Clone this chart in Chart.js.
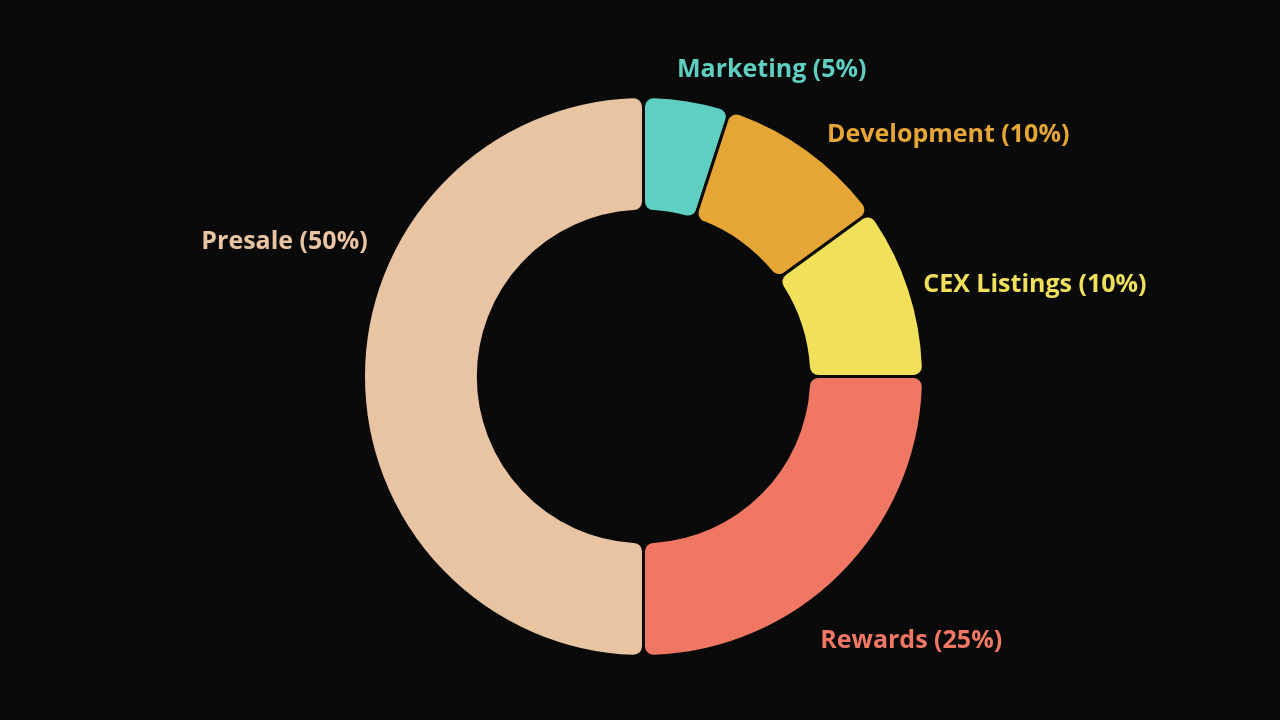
<!DOCTYPE html>
<html>
<head>
<meta charset="utf-8">
<script src="https://cdn.jsdelivr.net/npm/chart.js@4"></script>
<style>
  html, body { margin: 0; padding: 0; background: #0a0a0a; }
  canvas { display: block; }
</style>
</head>
<body>
<canvas id="chart" width="1280" height="720"></canvas>
<script>
// token allocation, clockwise from the top
const categories = ['Marketing', 'Development', 'CEX Listings', 'Rewards', 'Presale'];
const shares = [5, 10, 10, 25, 50];
const colors = ['#5ecfc0', '#e6a636', '#f0e05a', '#f07763', '#e8c4a2'];

// label placement: angle from top (deg), distance past the outer edge, alignment
const labelAngles = [6.2, 37, 71.5, 146, 296.4];
const labelGaps = [30, 25, 15, 36, 28];
const labelAlign = ['left', 'left', 'left', 'left', 'right'];

const outsideLabels = {
  id: 'outsideLabels',
  afterDraw(chart) {
    const ctx = chart.ctx;
    const meta = chart.getDatasetMeta(0);
    ctx.save();
    ctx.font = 'bold 25px "Open Sans", Lato, sans-serif';
    ctx.textBaseline = 'middle';
    meta.data.forEach((arc, i) => {
      const a = labelAngles[i] * Math.PI / 180;
      const r = arc.outerRadius + labelGaps[i];
      const x = arc.x + r * Math.sin(a);
      const y = arc.y - r * Math.cos(a) + 2; // open sans sits a bit high
      ctx.fillStyle = colors[i];
      ctx.textAlign = labelAlign[i];
      ctx.fillText(categories[i] + ' (' + shares[i] + '%)', x, y);
    });
    ctx.restore();
  }
};

new Chart(document.getElementById('chart'), {
  type: 'doughnut',
  data: {
    labels: categories,
    datasets: [{
      data: shares,
      backgroundColor: colors,
      borderColor: '#0a0a0a',
      borderWidth: 3,
      borderRadius: 10,
      hoverOffset: 0
    }]
  },
  options: {
    responsive: false,
    animation: false,
    cutout: '59%',
    layout: {
      padding: { top: 95, bottom: 62, left: 362, right: 355 }
    },
    plugins: {
      legend: { display: false },
      tooltip: { enabled: false }
    }
  },
  plugins: [outsideLabels]
});
</script>
</body>
</html>
